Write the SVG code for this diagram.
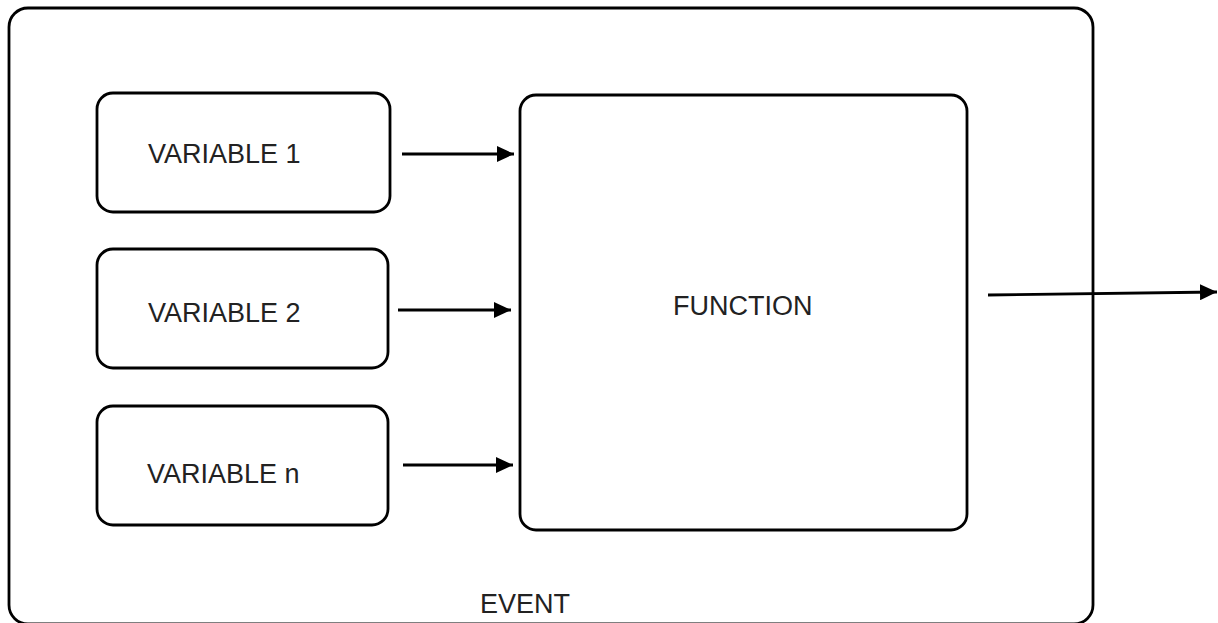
<svg xmlns="http://www.w3.org/2000/svg" width="1218" height="623" viewBox="0 0 1218 623">
<style>
.box{fill:#fff;stroke:#000;stroke-width:2.8}
.lbl{font-family:"Liberation Sans",Arial,sans-serif;font-size:27px;fill:#222}
.con{stroke:#000;stroke-width:2.8;fill:none}
</style>
<defs>
<marker id="ah" markerUnits="userSpaceOnUse" markerWidth="18" markerHeight="16" refX="17" refY="8" orient="auto">
<path d="M0,0 L17,8 L0,16 Z" fill="#000"/>
</marker>
</defs>
<rect width="1218" height="623" fill="#fff"/>
<g id="event">
<rect class="box" x="9" y="8" width="1084" height="616" rx="19"/>
<text class="lbl" x="480" y="613">EVENT</text>
</g>
<g id="var1">
<rect class="box" x="97" y="93" width="293" height="119" rx="16"/>
<text class="lbl" x="148" y="163">VARIABLE 1</text>
</g>
<g id="var2">
<rect class="box" x="97" y="249" width="291" height="119" rx="16"/>
<text class="lbl" x="148" y="322">VARIABLE 2</text>
</g>
<g id="varn">
<rect class="box" x="97" y="406" width="291" height="119" rx="16"/>
<text class="lbl" x="147" y="483">VARIABLE n</text>
</g>
<g id="function">
<rect class="box" x="520" y="95" width="447" height="435" rx="16"/>
<text class="lbl" x="673" y="315">FUNCTION</text>
</g>
<g id="connectors">
<line class="con" x1="402" y1="154" x2="514" y2="154" marker-end="url(#ah)"/>
<line class="con" x1="398" y1="310" x2="511" y2="310" marker-end="url(#ah)"/>
<line class="con" x1="403" y1="465" x2="513" y2="465" marker-end="url(#ah)"/>
<line class="con" x1="988" y1="295" x2="1217" y2="292" marker-end="url(#ah)"/>
</g>
</svg>
